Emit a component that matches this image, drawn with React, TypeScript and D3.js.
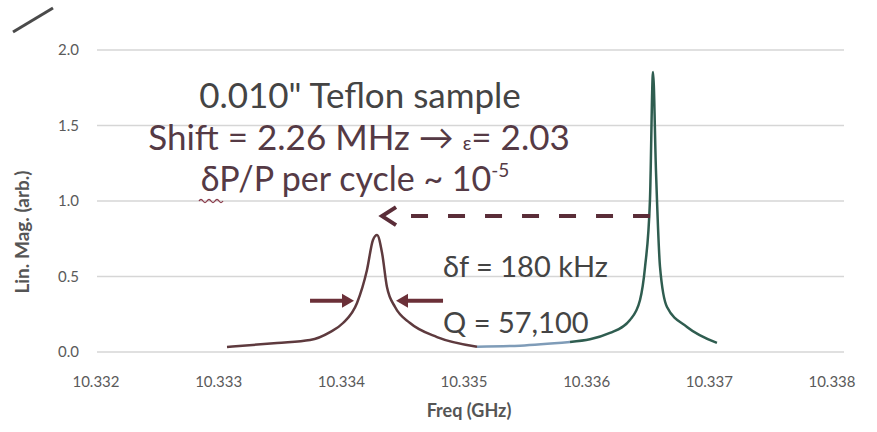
import React from "react";
import * as d3 from "d3";

const W = 877;
const H = 432;

// x ticks (GHz) and y ticks
const xTicks = [10.332, 10.333, 10.334, 10.335, 10.336, 10.337, 10.338];
const yTicks = [0, 0.5, 1.0, 1.5, 2.0];

// Resonance with sample (shifted)
const redFreq = [10.333068, 10.333476, 10.333745, 10.333908, 10.334014, 10.334128, 10.334209, 10.334258, 10.334291, 10.334332, 10.334372, 10.334438, 10.33456, 10.33478, 10.335106];
const redMag = [0.033, 0.06, 0.079, 0.132, 0.192, 0.325, 0.543, 0.742, 0.775, 0.656, 0.43, 0.298, 0.192, 0.099, 0.035];

// baseline between the two resonances
const blueFreq = [10.335106, 10.335457, 10.335864];
const blueMag = [0.035, 0.042, 0.066];

// Empty cavity resonance
const greenFreq = [10.335864, 10.33619, 10.336353, 10.336435, 10.336476, 10.336516, 10.336541, 10.336565, 10.336598, 10.336655, 10.336818, 10.337062];
const greenMag = [0.066, 0.126, 0.212, 0.344, 0.563, 1.007, 1.854, 1.2, 0.563, 0.298, 0.166, 0.06];

const xTickLabels = ["10.332", "10.333", "10.334", "10.335", "10.336", "10.337", "10.338"];
const yTickLabels = ["0.0", "0.5", "1.0", "1.5", "2.0"];

const FONT = "Lato, 'Open Sans', sans-serif";

export default function App() {
  const x = d3.scaleLinear().domain([10.332, 10.338]).range([96, 832]);
  const y = d3.scaleLinear().domain([0, 2]).range([352, 50]);

  const line = d3
    .line<[number, number]>()
    .x((d) => x(d[0]))
    .y((d) => y(d[1]))
    .curve(d3.curveMonotoneX);

  const zip = (a: number[], b: number[]) => a.map((v, i) => [v, b[i]] as [number, number]);

  const redPath = line(zip(redFreq, redMag)) || "";
  const bluePath = line(zip(blueFreq, blueMag)) || "";
  const greenPath = line(zip(greenFreq, greenMag)) || "";

  const redPeakX = x(redFreq[8]);
  const greenPeakX = x(greenFreq[6]);
  const arrowY = y(0.9);
  const halfY = y(0.36);

  return (
    <svg width={W} height={H} style={{ position: "absolute", left: 0, top: 0, background: "#fff" }}>
      <rect x={0} y={0} width={W} height={H} fill="#ffffff" />
      {/* slide decoration */}
      <line x1={13} y1={32} x2={53} y2={8} stroke="#4a4a4a" strokeWidth={3} />

      {/* grid */}
      {yTicks.map((t) => (
        <line key={"g" + t} x1={97} x2={844} y1={y(t)} y2={y(t)} stroke="#d6d6d6" strokeWidth={1.5} />
      ))}
      {yTicks.map((t, i) => (
        <text key={"yl" + t} x={79} y={y(t) + 5} textAnchor="end" fontFamily={FONT} fontSize={15} fill="#5a5a5a">
          {yTickLabels[i]}
        </text>
      ))}
      {xTicks.map((t, i) => (
        <text key={"xl" + t} x={x(t)} y={387} textAnchor="middle" fontFamily={FONT} fontSize={15} fill="#5a5a5a">
          {xTickLabels[i]}
        </text>
      ))}
      <text x={469} y={417} textAnchor="middle" fontFamily={FONT} fontSize={18} fontWeight="bold" fill="#555">
        Freq (GHz)
      </text>
      <text
        transform={`translate(29,232) rotate(-90)`}
        textAnchor="middle"
        fontFamily={FONT}
        fontSize={19}
        fontWeight="bold"
        fill="#555"
      >
        Lin. Mag. (arb.)
      </text>

      {/* curves */}
      <path d={bluePath} fill="none" stroke="#7f9cb8" strokeWidth={2.5} />
      <path d={redPath} fill="none" stroke="#5e3a3e" strokeWidth={2.5} />
      <path d={greenPath} fill="none" stroke="#2f5d50" strokeWidth={2.5} />

      {/* dashed shift arrow */}
      <line
        x1={greenPeakX - 3}
        x2={redPeakX + 22}
        y1={arrowY}
        y2={arrowY}
        stroke="#5a2d38"
        strokeWidth={4}
        strokeDasharray="17 20"
      />
      <polyline
        points={`${redPeakX + 19},${arrowY - 9} ${redPeakX + 5},${arrowY} ${redPeakX + 19},${arrowY + 9}`}
        fill="none"
        stroke="#5a2d38"
        strokeWidth={4}
      />

      {/* width arrows */}
      <line x1={redPeakX - 67} x2={redPeakX - 32} y1={halfY + 3} y2={halfY + 3} stroke="#6b3038" strokeWidth={4} />
      <polygon
        points={`${redPeakX - 35},${halfY - 4} ${redPeakX - 23},${halfY + 3} ${redPeakX - 35},${halfY + 10}`}
        fill="#6b3038"
      />
      <line x1={redPeakX + 28} x2={redPeakX + 66} y1={halfY + 3} y2={halfY + 3} stroke="#6b3038" strokeWidth={4} />
      <polygon
        points={`${redPeakX + 31},${halfY - 4} ${redPeakX + 19},${halfY + 3} ${redPeakX + 31},${halfY + 10}`}
        fill="#6b3038"
      />

      {/* annotation text */}
      <text x={360} y={108} textAnchor="middle" fontFamily={FONT} fontSize={35} fill="#444">
        0.010" Teflon sample
      </text>
      <text x={359} y={150} textAnchor="middle" fontFamily={FONT} fontSize={35} fill="#553a45">
        Shift = 2.26 MHz → <tspan fontSize={19}>ε</tspan>= 2.03
      </text>
      <text x={355} y={191} textAnchor="middle" fontFamily={FONT} fontSize={34} fill="#553a45">
        δP/P per cycle ~ 10<tspan fontSize={19} dy={-14}>-5</tspan>
      </text>
      <path
        d="M199,201 q2,-3 4,0 t4,0 t4,0 t4,0 t4,0 t4,0"
        fill="none"
        stroke="#8a3a4a"
        strokeWidth={1.3}
      />
      <text x={443} y={277} fontFamily={FONT} fontSize={29} fill="#444">
        δf = 180 kHz
      </text>
      <text x={443} y={333} fontFamily={FONT} fontSize={29} fill="#444">
        Q = 57,100
      </text>
    </svg>
  );
}
